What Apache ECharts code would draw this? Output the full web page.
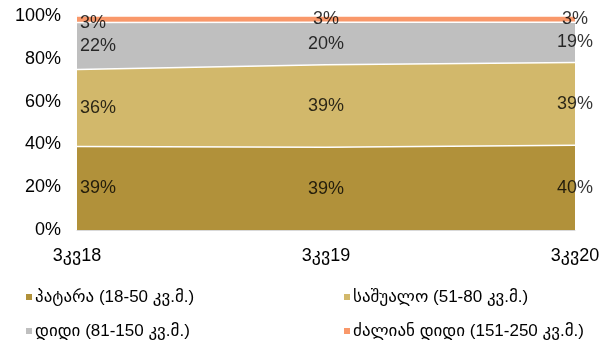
<!DOCTYPE html>
<html>
<head>
<meta charset="utf-8">
<style>
  html, body { margin: 0; padding: 0; background: #fff; }
  #chart { width: 616px; height: 345px; }
</style>
<script src="https://cdn.jsdelivr.net/npm/echarts@6/dist/echarts.min.js"></script>
</head>
<body>
<div id="chart"></div>
<script>
// Quarters on the category axis
var quarters = ['3კვ18', '3კვ19', '3კვ20'];

// Apartment size groups (legend names)
var seriesNames = [
  'პატარა (18-50 კვ.მ.)',
  'საშუალო (51-80 კვ.მ.)',
  'დიდი (81-150 კვ.მ.)',
  'ძალიან დიდი (151-250 კვ.მ.)'
];

// Shares in percent, as labelled
var small = [39, 39, 40];
var medium = [36, 39, 39];
var large = [22, 20, 19];
var veryLarge = [3, 3, 3];

// Y axis tick values
var yTicks = [0, 20, 40, 60, 80, 100];

var colors = ['#B1913A', '#D2B86B', '#BFBFBF', '#F9986A'];
var FONT = '"Liberation Sans", Arial, "DejaVu Sans", sans-serif';

var groups = [small, medium, large, veryLarge];

// 100% stacking: each quarter is normalised to its own total
var totals = quarters.map(function (_, i) {
  return groups.reduce(function (s, g) { return s + g[i]; }, 0);
});
var normalised = groups.map(function (g) {
  return g.map(function (v, i) { return v / totals[i] * 100; });
});

var series = [];
normalised.forEach(function (vals, k) {
  series.push({
    name: seriesNames[k],
    type: 'line',
    stack: 'share',
    data: vals,
    symbol: 'none',
    showSymbol: false,
    lineStyle: { color: '#ffffff', width: 1.5 },
    itemStyle: { color: colors[k] },
    areaStyle: { color: colors[k], opacity: 1 },
    z: 2,
    silent: true
  });
});

// Value labels placed at the middle of each band
normalised.forEach(function (vals, k) {
  var pts = vals.map(function (v, i) {
    var below = 0;
    for (var j = 0; j < k; j++) below += normalised[j][i];
    var item = { value: [i, below + v / 2], raw: groups[k][i] };
    if (i === 0) {
      item.label = { position: 'right', distance: 3 };
      if (k === 3) item.label.offset = [0, 4];
    }
    return item;
  });
  series.push({
    type: 'scatter',
    data: pts,
    symbolSize: 0,
    z: 5,
    silent: true,
    label: {
      show: true,
      position: 'inside',
      color: '#000',
      fontSize: 18,
      fontFamily: FONT,
      formatter: function (p) { return p.data.raw + '%'; }
    }
  });
});

function legendAt(name, left, top) {
  return {
    data: [name],
    left: left,
    top: top,
    orient: 'horizontal',
    padding: 0,
    icon: 'rect',
    itemWidth: 6,
    itemHeight: 6,
    selectedMode: false,
    textStyle: { fontSize: 17, fontFamily: FONT, color: '#000', lineHeight: 20, padding: [0, 0, 0, -2] }
  };
}

var option = {
  animation: false,
  color: colors,
  grid: { left: 77, right: 41, top: 16, bottom: 115 },
  legend: [
    legendAt(seriesNames[0], 26, 287),
    legendAt(seriesNames[1], 344, 287),
    legendAt(seriesNames[2], 26, 321),
    legendAt(seriesNames[3], 344, 321)
  ],
  xAxis: {
    type: 'category',
    data: quarters,
    boundaryGap: false,
    axisLine: { show: true, lineStyle: { color: '#D9D9D9', width: 1 } },
    axisTick: { show: false },
    axisLabel: { color: '#000', fontSize: 18, fontFamily: FONT, margin: 17 },
    z: 10
  },
  yAxis: {
    type: 'value',
    min: yTicks[0],
    max: yTicks[yTicks.length - 1],
    interval: yTicks[1] - yTicks[0],
    axisLine: { show: true, lineStyle: { color: '#D9D9D9', width: 1 } },
    axisTick: { show: false },
    splitLine: { show: false },
    axisLabel: { color: '#000', fontSize: 18, fontFamily: FONT, margin: 16, formatter: '{value}%' }
  },
  series: series
};

var chart = echarts.init(document.getElementById('chart'), null, { renderer: 'canvas' });
chart.setOption(option);
</script>
</body>
</html>
